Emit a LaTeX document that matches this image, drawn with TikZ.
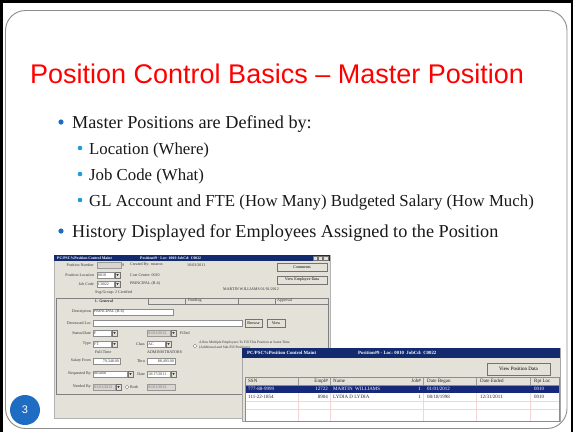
\documentclass[tikz,border=0pt]{standalone}
\usepackage{fontspec}
\setmainfont{Liberation Serif}
\newfontfamily\titlefont{Liberation Sans}
\definecolor{tbar}{HTML}{132A6E}
\definecolor{selrow}{HTML}{15287A}
\definecolor{winbg}{HTML}{E4E1D9}
\definecolor{fieldgray}{HTML}{D9D6CF}
\definecolor{bul}{HTML}{1F6DC2}
\definecolor{subbul}{HTML}{1E9BE0}
\definecolor{framegray}{HTML}{8C8C8C}
\definecolor{gridpink}{HTML}{F2D6D6}
\newcommand\ddarrow[2]{%
  \draw[btn] (#1,{#2-3}) rectangle ({#1+5},{#2+3});
  \fill[black!80] ({#1+1.3},{#2-0.8}) -- ({#1+3.7},{#2-0.8}) -- ({#1+2.5},{#2+0.9}) -- cycle;}
\tikzset{
  tx/.style={inner sep=0, font=\fontsize{4}{4.5}\selectfont, text=black!80},
  txr/.style={tx, anchor=east},
  txl/.style={tx, anchor=west},
  fbox/.style={draw=black!45, fill=white, line width=0.35},
  gbox/.style={draw=black!40, fill=fieldgray, line width=0.35},
  btn/.style={draw=black!55, fill=winbg, line width=0.4},
  btnn/.style={draw=black!55, fill=winbg, line width=0.4, inner sep=0, font=\fontsize{4}{4.5}\selectfont},
  ttl/.style={inner sep=0, anchor=west, text=white, font=\bfseries\fontsize{3.8}{4}\selectfont},
  ttl2/.style={inner sep=0, anchor=west, text=white, font=\bfseries\fontsize{4.8}{5}\selectfont},
  tb/.style={inner sep=0, anchor=west, font=\fontsize{5}{5.5}\selectfont, text=black!85},
  tbr/.style={tb, anchor=east},
  tbw/.style={tb, text=white},
  tbwr/.style={tbr, text=white},
  body/.style={inner sep=0, anchor=base west, font=\fontsize{18.2}{20}\selectfont, text=black!90},
  subbody/.style={inner sep=0, anchor=base west, font=\fontsize{16.8}{20}\selectfont, text=black!90},
}
\begin{document}
\begin{tikzpicture}[x=1pt,y=-1pt]
\useasboundingbox (0,0) rectangle (573,432);
\fill[white] (0,0) rectangle (573,432);
% outer black border
\fill[black] (0,0) rectangle (3,432);
\fill[black] (0,0) rectangle (573,3);
\fill[black] (570.5,0) rectangle (573,432);
% slide frame
\draw[framegray, line width=0.9, rounded corners=20] (5.5,10.5) rectangle (567,428.5);

% title
\node[anchor=base west, inner sep=0, font=\titlefont\fontsize{27}{30}\selectfont, text=red] (title) at (30,83) {Position Control Basics – Master Position};

% bullets
\fill[bul] (61,122) circle (2.6);
\node[body] (b1) at (72,128) {Master Positions are Defined by:};
\fill[subbul] (80,148) circle (2.3);
\node[subbody] (s1) at (89,154) {Location (Where)};
\fill[subbul] (80,174) circle (2.3);
\node[subbody] (s2) at (89,180) {Job Code (What)};
\fill[subbul] (80,200) circle (2.3);
\node[subbody] (s3) at (89,206) {GL Account and FTE (How Many) Budgeted Salary (How Much)};
\fill[bul] (61,231) circle (2.6);
\node[body] (b2) at (72,237) {History Displayed for Employees Assigned to the Position};

% ===== screenshot 1 =====
\fill[winbg] (54,255) rectangle (330,418);
\draw[black!30, line width=0.4] (54,255) rectangle (330,418);
\fill[tbar] (54,255) rectangle (330,261);
\node[ttl] (t1a) at (57,258) {PC/PSC\%Position Control Maint};
\node[ttl] (t1b) at (140,258) {Position\#9 · Loc: 0010 JobCd: C0022};
\draw[btn] (313,256) rectangle (317,260);
\draw[btn] (318,256) rectangle (322,260);
\draw[btn] (323,256) rectangle (328,260);

\node[txr] (lpn) at (94,265) {Position Number};
\draw[gbox] (97,262) rectangle (121,268);
\node[txl] (n9) at (122,265) {9};
\node[txl] (cby) at (130,265) {Created By: mcaron};
\node[txl] (cdt) at (187,265) {10/03/2011};
\node[txr] (lpl) at (94,275) {Position Location};
\draw[fbox] (97,272) rectangle (114,278);
\node[txl] (vpl) at (98,275) {0010};
\ddarrow{115}{275}
\node[txl] (cc) at (130,275) {Cost Center: 0010};
\node[txr] (ljc) at (94,284) {Job Code};
\draw[fbox] (97,281) rectangle (114,287);
\node[txl] (vjc) at (98,284) {C0022};
\ddarrow{115}{284}
\node[txl] (pr) at (130,284) {PRINCIPAL (B-6)};
\node[txl] (sg) at (95,293) {Svg/Group: 2 Certified};
\node[txl] (mw) at (223,289) {MARTIN WILLIAMS 01/01/2012};
\node[btnn, minimum width=50pt, minimum height=8pt] (bcom) at (302,267) {Comments};
\node[btnn, minimum width=50pt, minimum height=8pt] (bved) at (302,280) {View Employee Data};

% tabs and panel
\draw[black!50, line width=0.4, fill=winbg] (56,304) rectangle (328,394);
\draw[black!50, line width=0.4, fill=winbg] (56,304) -- (56,298) -- (148,298) -- (148,304);
\draw[black!50, line width=0.4] (148,304) -- (148,298) -- (185,298) -- (185,304);
\draw[black!50, line width=0.4] (185,304) -- (185,298) -- (238,298) -- (238,304);
\draw[black!50, line width=0.4] (238,304) -- (238,298) -- (275,298) -- (275,304);
\draw[black!50, line width=0.4] (275,304) -- (275,298) -- (328,298) -- (328,304);
\draw[winbg, line width=0.8] (56.5,304) -- (147.5,304);
\node[tx, font=\bfseries\fontsize{4}{4.5}\selectfont] (tg) at (104,301) {1. General};
\node[txl] (tf) at (188,301) {Funding};
\node[txl] (ta) at (277,301) {Approval};

\node[txr] (ld) at (91,312) {Description};
\draw[fbox] (93,309) rectangle (173,315);
\node[txl] (vd) at (94,312) {PRINCIPAL (B-6)};
\node[txr] (ldl) at (91,323) {Decreased Loc};
\draw[fbox] (93,320) rectangle (242,326);
\node[btnn, minimum width=17pt, minimum height=8pt] (bbr) at (253.5,323) {Browse};
\node[btnn, minimum width=18pt, minimum height=8pt] (bvw) at (276,323) {View};
\node[txr] (lsd) at (91,333) {Status/Date};
\draw[fbox] (93,330) rectangle (111,336);
\node[txl] (vf) at (94,333) {F};
\ddarrow{112}{333}
\draw[gbox] (147,330) rectangle (170,336);
\node[txl, text=black!55] (vsd) at (148,333) {01/01/2012};
\ddarrow{171}{333}
\node[txl] (fl) at (180,333) {Filled};
\node[txr] (lty) at (91,344) {Type};
\draw[fbox] (93,341) rectangle (111,347);
\node[txl] (vft) at (94,344) {FT};
\ddarrow{112}{344}
\node[txl] (ftm) at (95,352) {Full-Time};
\node[txr] (lcl) at (145,344) {Class};
\draw[fbox] (147,341) rectangle (165,347);
\node[txl] (vac) at (148,344) {AC};
\ddarrow{166}{344}
\node[txl] (adm) at (147,352) {ADMINISTRATORS};
\draw[black!50, fill=white, line width=0.3] (195,346) circle (1.8);
\node[txl, font=\fontsize{3.6}{4}\selectfont] (al1) at (199,343) {Allow Multiple Employees To Fill This Position at Same Time};
\node[txl, font=\fontsize{3.6}{4}\selectfont] (al2) at (199,348) {(Additional and Sub-Fill Positions)};
\node[txr] (lsf) at (91,361) {Salary From};
\draw[fbox] (93,358) rectangle (120,364);
\node[txr] (vsf) at (119,361) {70,348.00};
\node[txr] (lth) at (145,361) {Thru};
\draw[fbox] (147,358) rectangle (175,364);
\node[txr] (vth) at (174,361) {88,493.00};
\node[txr] (lrb) at (91,374) {Requested By};
\draw[fbox] (93,371) rectangle (127,377);
\node[txl] (vrb) at (94,374) {mcaron};
\ddarrow{128}{374}
\node[txr] (ldt) at (145,374) {Date};
\draw[fbox] (147,371) rectangle (170,377);
\node[txl] (vdt) at (148,374) {10/17/2011};
\ddarrow{171}{374}
\node[txr] (lnb) at (91,387) {Needed By};
\draw[gbox] (93,384) rectangle (115,390);
\node[txl, text=black!55] (vnb) at (94,387) {01/01/2012};
\ddarrow{116}{387}
\draw[black!50, fill=white, line width=0.3] (127,387) circle (1.8);
\node[txl] (both) at (130,387) {Both};
\draw[gbox] (147,384) rectangle (175,390);
\node[txl, text=black!55] (vbo) at (148,387) {01/01/2012};

% ===== screenshot 2 =====
\fill[winbg] (242,348) rectangle (560,421);
\draw[black!35, line width=0.4] (242,348) rectangle (560,421);
\fill[tbar] (242,348) rectangle (560,358);
\node[ttl2] (t2a) at (247,353) {PC/PSC\%Position Control Maint};
\node[ttl2] (t2b) at (358,353) {Position\#9 - Loc: 0010 \ JobCd: C0022};
\node[btnn, font=\fontsize{5}{5.5}\selectfont, minimum width=63pt, minimum height=12pt] (bvp) at (518.5,369) {View Position Data};
\fill[white] (245,377) rectangle (559,421);
\fill[winbg] (245,377) rectangle (559,385);
\fill[selrow] (245,385) rectangle (559,393);
\foreach \cx in {298,330,423,476,530}{
  \draw[gridpink, line width=0.4] (\cx,393) -- (\cx,421);
  \draw[black!40, line width=0.4] (\cx,377) -- (\cx,385);
}
\draw[gridpink, line width=0.4] (245,401) -- (559,401);
\draw[gridpink, line width=0.4] (245,409) -- (559,409);
\draw[black!45, line width=0.4] (245,377) rectangle (559,421);
\draw[black!45, line width=0.4] (245,385) -- (559,385);
\node[tb] (hssn) at (248,381) {SSN};
\node[tbr] (hemp) at (328,381) {Empl\#};
\node[tb] (hnam) at (333,381) {Name};
\node[tbr] (hjob) at (421,381) {Job\#};
\node[tb] (hdb) at (427,381) {Date Began};
\node[tb] (hde) at (480,381) {Date Ended};
\node[tb] (hrl) at (534,381) {Rpt Loc};
\node[tbw] (r1a) at (248,389) {777-88-9999};
\node[tbwr] (r1b) at (328,389) {12722};
\node[tbw] (r1c) at (333,389) {MARTIN \ WILLIAMS};
\node[tbwr] (r1d) at (421,389) {1};
\node[tbw] (r1e) at (427,389) {01/01/2012};
\node[tbw] (r1g) at (534,389) {0010};
\node[tb] (r2a) at (248,397) {111-22-1854};
\node[tbr] (r2b) at (328,397) {8904};
\node[tb] (r2c) at (333,397) {LYDIA D LYDIA};
\node[tbr] (r2d) at (421,397) {1};
\node[tb] (r2e) at (427,397) {08/18/1998};
\node[tb] (r2f) at (480,397) {12/31/2011};
\node[tb] (r2g) at (534,397) {0010};

% page number
\fill[bul] (25,410) circle (15);
\node[inner sep=0, text=white, font=\titlefont\fontsize{11}{12}\selectfont] (pg) at (25,410) {3};
\end{tikzpicture}
\end{document}
